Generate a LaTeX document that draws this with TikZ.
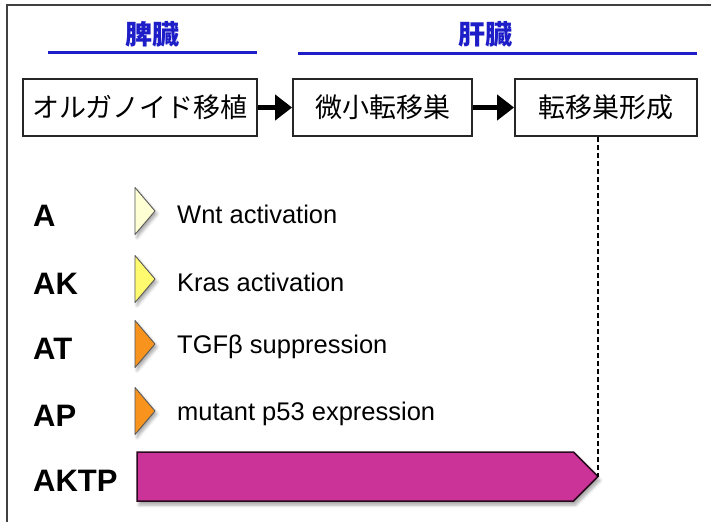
\documentclass[tikz,border=0pt]{standalone}
\usepackage{fontspec}
\setmainfont{Liberation Sans}
\newfontfamily\jpfont{Noto Sans CJK JP}
\usetikzlibrary{arrows.meta,shapes.symbols,shadows.blur}
\definecolor{organblue}{RGB}{30,30,200}
\definecolor{paleyellow}{RGB}{255,255,212}
\definecolor{lemon}{RGB}{255,250,110}
\definecolor{amber}{RGB}{248,148,30}
\definecolor{aktpmagenta}{RGB}{204,51,153}
\begin{document}
\begin{tikzpicture}
[x=1pt,y=-1pt,
  stagebox/.style={draw=black!85,line width=1.8pt,minimum height=57pt,inner sep=0pt,%
    font=\jpfont\fontsize{27}{30}\selectfont},%
  organlabel/.style={text=organblue,font=\jpfont\bfseries\fontsize{27}{30}\selectfont},%
  organline/.style={draw=organblue,line width=3pt},%
  steparrow/.style={-{Triangle[length=17pt,width=25pt]},line width=4.5pt},%
  rowlabel/.style={anchor=west,inner sep=0pt,font=\bfseries\fontsize{31}{34}\selectfont},%
  rowtext/.style={anchor=west,inner sep=0pt,font=\fontsize{25.5}{30}\selectfont},%
  markerdecorate/.style={draw=black!65,line width=0.9pt,line join=round,%
    blur shadow={shadow xshift=2pt,shadow yshift=-3pt,shadow opacity=35,shadow blur radius=3pt}}]
\useasboundingbox (0,0) rectangle (711,522);
%% frame
\draw[black!75,line width=2pt] (7,522) -- (7,5) -- (711,5);
%% organs
\node (spleen) at (152,34) [organlabel] {脾臓};
\node (liver) at (485,34) [organlabel] {肝臓};
\draw[organline] (48,52) -- (257,52);
\draw[organline] (298,53) -- (697,53);
%% stages
\node (organoid) at (140,107.5) [stagebox,minimum width=234pt] {オルガノイド移植};
\node (micro) at (382.5,107.5) [stagebox,minimum width=179pt] {微小転移巣};
\node (macro) at (606,107.5) [stagebox,minimum width=182pt] {転移巣形成};
\draw[steparrow] (organoid) -- (micro);
\draw[steparrow] (micro) -- (macro);
%% mutations
\foreach \name/\y/\col/\txt in {A/211/paleyellow/Wnt activation,
  AK/279/lemon/Kras activation, AT/344/amber/TGFβ suppression,
  AP/411/amber/mutant p53 expression}
{
  \node (\name) at (33,\y+5) [rowlabel] {\name};
  \path[markerdecorate,fill=\col] (135,\y-23.5) -- (155,\y) -- (135,\y+23.5) -- cycle;
  \node (\name-text) at (177,\y+3) [rowtext] {\txt};
}
\node (AKTP) at (33,481) [rowlabel] {AKTP};
\node (aktpbar) at (137,476.5) [signal,signal to=east,signal pointer angle=90,%
  minimum width=461pt,minimum height=49pt,inner sep=0pt,outer sep=0pt,anchor=west,%
  fill=aktpmagenta,draw=black!80!aktpmagenta,line width=1.5pt,%
  blur shadow={shadow xshift=2pt,shadow yshift=-4pt,shadow opacity=35,shadow blur radius=3pt}] {};
\draw[line width=1.3pt,dash pattern=on 5pt off 3pt] (macro.south -| aktpbar.east) -- (aktpbar.east);
\end{tikzpicture}
\end{document}
